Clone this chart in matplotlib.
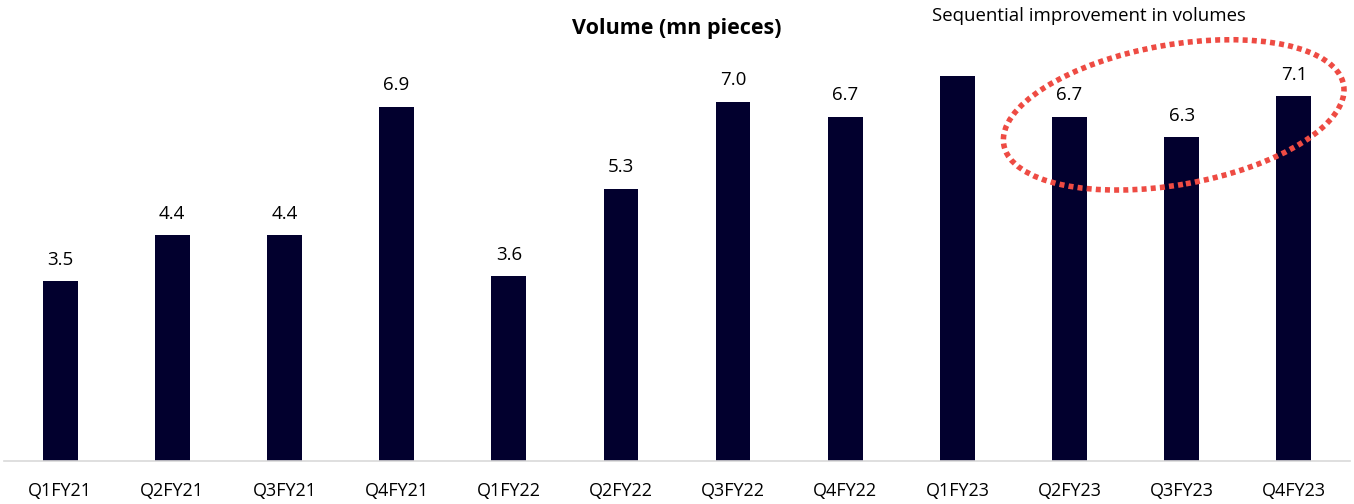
import matplotlib
matplotlib.use('Agg')
import matplotlib.pyplot as plt
from matplotlib.patches import Ellipse
from matplotlib.transforms import IdentityTransform
import numpy as np

plt.rcParams['font.family'] = ['Open Sans', 'DejaVu Sans']

quarters = ['Q1FY21', 'Q2FY21', 'Q3FY21', 'Q4FY21', 'Q1FY22', 'Q2FY22',
            'Q3FY22', 'Q4FY22', 'Q1FY23', 'Q2FY23', 'Q3FY23', 'Q4FY23']
volume = [3.5, 4.4, 4.4, 6.9, 3.6, 5.3, 7.0, 6.7, 7.5, 6.7, 6.3, 7.1]
# Q1FY23 is shown without a value label
show_label = [True] * 8 + [False] + [True] * 3

fig = plt.figure(figsize=(13.54, 5.04), dpi=100)
ax = fig.add_axes([0.003, 0.085, 0.994, 0.79])

x = np.arange(len(quarters))
ax.bar(x, volume, width=0.31, color='#02002E')
for xi, v, lab in zip(x, volume, show_label):
    if lab:
        ax.annotate(f'{v:.1f}', (xi, v), xytext=(0, 9), textcoords='offset points',
                    ha='center', va='bottom', fontsize=13.5, color='black')

ax.set_xlim(-0.5, len(quarters) - 0.5)
ax.set_ylim(0, 7.75)
ax.set_xticks(x)
ax.set_xticklabels(quarters, fontsize=13)
ax.tick_params(axis='x', length=0, pad=15)
ax.set_yticks([])
for s in ['top', 'right', 'left']:
    ax.spines[s].set_visible(False)
ax.spines['bottom'].set_color('#D9D9D9')
ax.spines['bottom'].set_linewidth(1.2)

fig.text(0.5, 0.944, 'Volume (mn pieces)', ha='center', va='center',
         fontsize=15.5, fontweight='bold')
fig.text(0.688, 0.968, 'Sequential improvement in volumes', ha='left', va='center',
         fontsize=13.4)

# dotted ring around the last three quarters
fig.canvas.draw()
cx, _ = ax.transData.transform((10, 0))
_, cy = ax.transData.transform((0, 6.74))
ring = Ellipse((cx - 8, cy), 345, 140, angle=10, transform=IdentityTransform(),
               fill=False, edgecolor='#EE4B43', linewidth=4, linestyle=(0, (0.9, 0.75)))
fig.patches.append(ring)

plt.savefig('out.png', dpi=100)
